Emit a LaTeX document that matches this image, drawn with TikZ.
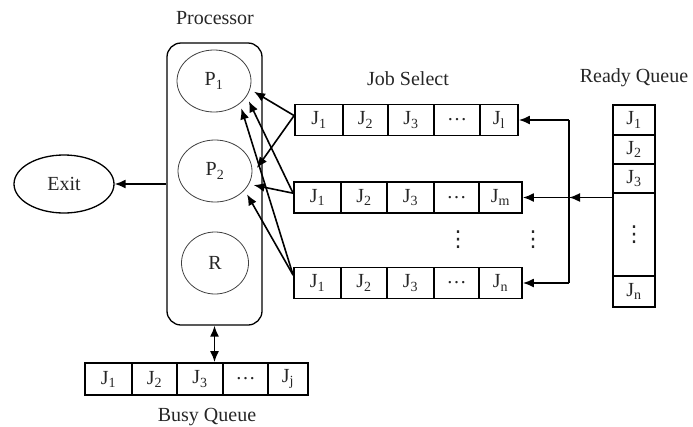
\documentclass[tikz,border=0pt]{standalone}
\usepackage{fontspec}
\setmainfont{Liberation Serif}
\newfontfamily\symfont{DejaVu Sans}
\usetikzlibrary{arrows.meta,shapes.geometric}
\begin{document}
\begin{tikzpicture}[x=1pt,y=-1pt,
  font=\fontsize{20}{23}\selectfont,
  >={Latex[length=11pt,width=9pt]},
  cell/.style={draw, line width=1.8pt, inner sep=0pt, minimum height=31pt, text=black!85},
  proc/.style={ellipse, draw=black!75, line width=0.8pt, inner sep=0pt,
    minimum width=74pt, minimum height=62pt, outer sep=5pt, text=black!85},
  arr/.style={line width=1.6pt, ->},
  lbl/.style={inner sep=0pt, text=black!85},
  vdot/.style={inner sep=0pt, text=black!85, font=\symfont\fontsize{22}{24}\selectfont}]
\useasboundingbox (0,0) rectangle (693,426);

% processor with its two processors and resource
\node[lbl] (proclbl) at (215,18) {Processor};
\node[draw, line width=1.3pt, rounded corners=14pt, minimum width=95pt,
      minimum height=282pt] (procbox) at (214.5,184) {};
\node[proc] (p1) at (214,81) {P\textsubscript{1}};
\node[proc] (p2) at (215,171) {P\textsubscript{2}};
\node[proc, minimum width=67pt] (r) at (215,263) {R};

% exit
\node[ellipse, draw, line width=1.3pt, inner sep=0pt, minimum width=100pt,
      minimum height=58pt, text=black!85] (exit) at (64,184) {Exit};
\draw[arr] (procbox.west |- exit) -- (exit);

% job select queues
\node[lbl] (jslbl) at (408,79) {Job Select};
\node[cell, minimum width=48pt] (a1) at (319,120) {J\textsubscript{1}};
\node[cell, minimum width=45pt] (a2) at (365.5,120) {J\textsubscript{2}};
\node[cell, minimum width=46pt] (a3) at (411,120) {J\textsubscript{3}};
\node[cell, minimum width=46pt] (a4) at (457,120) {\ldots};
\node[cell, minimum width=38pt] (a5) at (499,120) {J\textsubscript{l}};

\node[cell, minimum width=47pt] (b1) at (317.5,197.5) {J\textsubscript{1}};
\node[cell, minimum width=46pt] (b2) at (364,197.5) {J\textsubscript{2}};
\node[cell, minimum width=47pt] (b3) at (410.5,197.5) {J\textsubscript{3}};
\node[cell, minimum width=45pt] (b4) at (456.5,197.5) {\ldots};
\node[cell, minimum width=43pt] (b5) at (500.5,197.5) {J\textsubscript{m}};

\node[cell, minimum width=47pt] (d1) at (317.5,283) {J\textsubscript{1}};
\node[cell, minimum width=46pt] (d2) at (364,283) {J\textsubscript{2}};
\node[cell, minimum width=47pt] (d3) at (410.5,283) {J\textsubscript{3}};
\node[cell, minimum width=45pt] (d4) at (456.5,283) {\ldots};
\node[cell, minimum width=43pt] (d5) at (500.5,283) {J\textsubscript{n}};

\node[vdot] (vd1) at (458,240) {⋮};
\node[vdot] (vd2) at (533,240) {⋮};

% ready queue
\node[lbl] (rqlbl) at (634,78) {Ready Queue};
\node[cell, minimum width=42pt, minimum height=30pt] (r1) at (634,120) {J\textsubscript{1}};
\node[cell, minimum width=42pt, minimum height=29pt] (r2) at (634,149.5) {J\textsubscript{2}};
\node[cell, minimum width=42pt, minimum height=29pt] (r3) at (634,178.5) {J\textsubscript{3}};
\node[cell, minimum width=42pt, minimum height=83pt] (r4) at (634,234.5) {};
\node[vdot] (r4dots) at (r4) {⋮};
\node[cell, minimum width=42pt, minimum height=31pt] (r5) at (634,291.5) {J\textsubscript{n}};

% distribution from ready queue to job select queues
\coordinate (jtop) at (569,120);
\coordinate (jmid) at (569,197.5);
\coordinate (jbot) at (569,283);
\draw[line width=1.6pt] (jtop) -- (jbot);
\draw[arr] (r4.west |- jmid) -- (jmid);
\draw[arr] (jmid) -- (b5.east);
\draw[arr] (jtop) -- (a5.east);
\draw[arr] (jbot) -- (d5.east);

% job select queues feed the processors
\draw[arr] (a1.170) -- (p1.-15);
\draw[arr] (a1.170) -- (p2.4);
\draw[arr] (b1.170) -- (p1.-30);
\draw[arr] (b1.170) -- (p2.-20);
\draw[arr] (d1.162) -- (p1.-45);
\draw[arr] (d1.162) -- (p2.-36);

% busy queue
\node[cell, minimum width=47pt, minimum height=32pt] (c1) at (108.5,379) {J\textsubscript{1}};
\node[cell, minimum width=45pt, minimum height=32pt] (c2) at (154.5,379) {J\textsubscript{2}};
\node[cell, minimum width=46pt, minimum height=32pt] (c3) at (200,379) {J\textsubscript{3}};
\node[cell, minimum width=45pt, minimum height=32pt] (c4) at (245.5,379) {\ldots};
\node[cell, minimum width=40pt, minimum height=32pt] (c5) at (288,379) {J\textsubscript{j}};
\node[lbl] (bqlbl) at (207,417) {Busy Queue};
\draw[line width=1.6pt, <->]
  (procbox.south) -- (procbox.south |- c3.north);
\end{tikzpicture}
\end{document}
